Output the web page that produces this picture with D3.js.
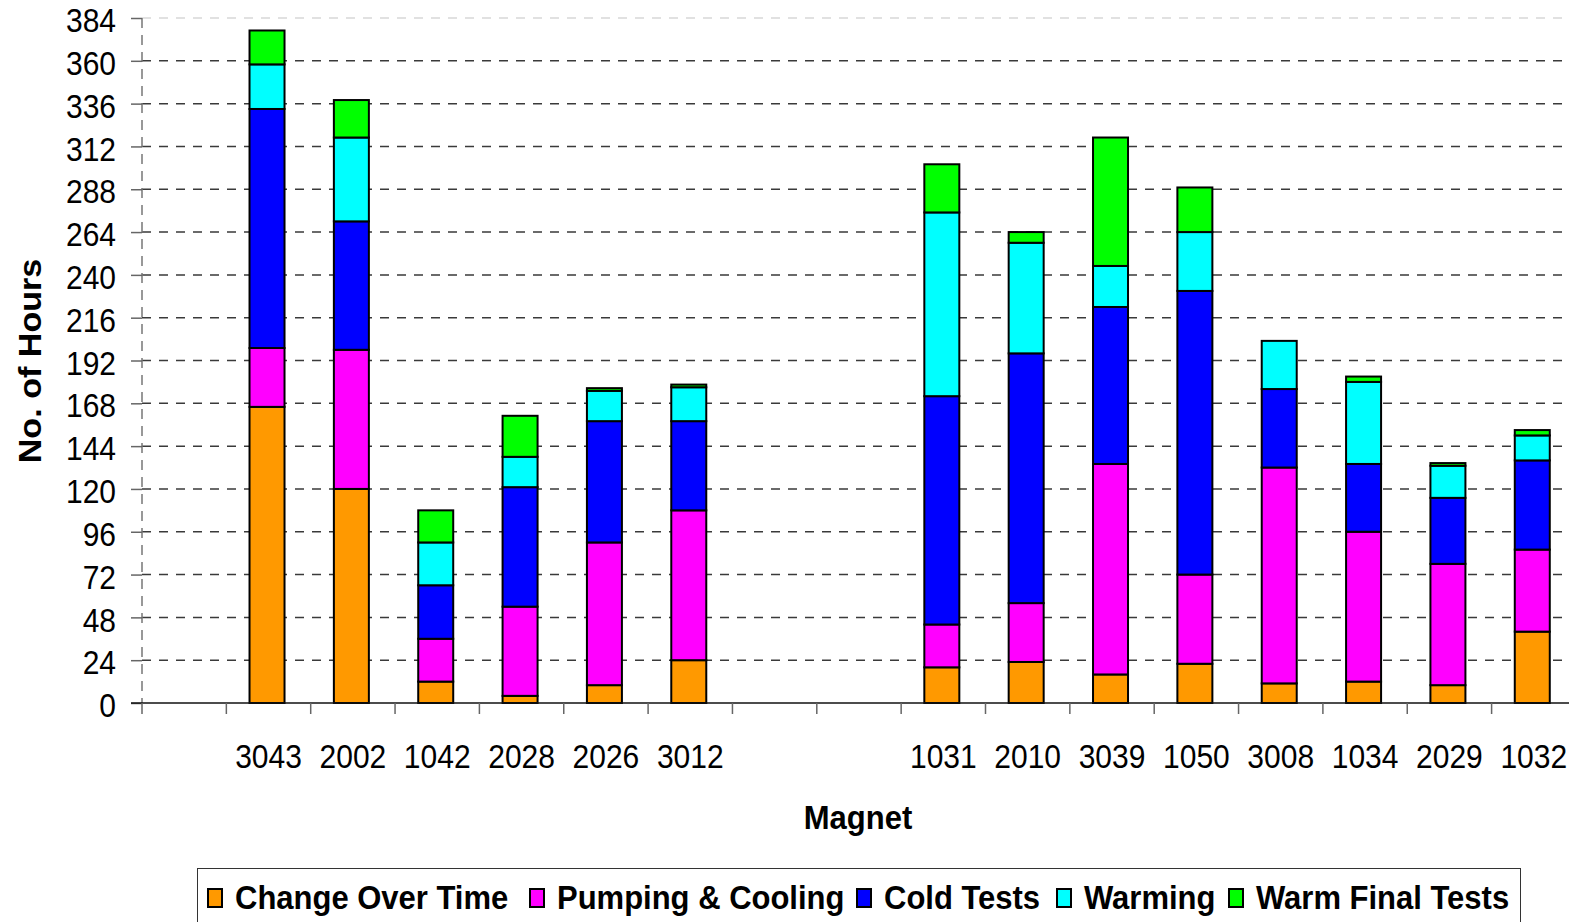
<!DOCTYPE html>
<html>
<head>
<meta charset="utf-8">
<script src="https://cdn.jsdelivr.net/npm/d3@7"></script>
<style>
  html, body { margin: 0; padding: 0; background: #fff; overflow: hidden; }
  svg { display: block; font-family: "Liberation Sans", Arial, sans-serif; }
</style>
</head>
<body>
<svg id="chart" width="1569" height="922"></svg>
<script>
// Magnet slots along the x axis ("" marks an empty slot)
const slots = ["", "3043", "2002", "1042", "2028", "2026", "3012", "", "",
               "1031", "2010", "3039", "1050", "3008", "1034", "2029", "1032"];
const magnets = ["3043", "2002", "1042", "2028", "2026", "3012",
                 "1031", "2010", "3039", "1050", "3008", "1034", "2029", "1032"];

// Hours spent in each phase, per magnet
const changeOverTime = [166, 120, 12, 4, 10, 24, 20, 23, 16, 22, 11, 12, 10, 40];
const pumpingCooling = [33, 78, 24, 50, 80, 84, 24, 33, 118, 50, 121, 84, 68, 46];
const coldTests      = [134, 72, 30, 67, 68, 50, 128, 140, 88, 159, 44, 38, 37, 50];
const warming        = [25, 47, 24, 17, 17, 19, 103, 62, 23, 33, 27, 46, 18, 14];
const warmFinalTests = [19, 21, 18, 23, 1.5, 1.5, 27, 6, 72, 25, 0, 3, 1.5, 3];

const seriesNames  = ["Change Over Time", "Pumping & Cooling", "Cold Tests", "Warming", "Warm Final Tests"];
const seriesColors = ["#FF9900", "#FF00FF", "#0000FF", "#00FFFF", "#00FF00"];
const yTicks = d3.range(0, 385, 24);

// rows for the stack layout
const rows = magnets.map((m, i) => ({
  magnet: m,
  "Change Over Time": changeOverTime[i],
  "Pumping & Cooling": pumpingCooling[i],
  "Cold Tests": coldTests[i],
  "Warming": warming[i],
  "Warm Final Tests": warmFinalTests[i]
}));

const svg = d3.select("#chart");
const plotLeft = 142, plotTop = 18, plotBottom = 703;
const slotW = 84.35;
const plotRight = plotLeft + slotW * slots.length;
const stretch = 1.08;

const x = d3.scaleBand().domain(d3.range(slots.length)).range([plotLeft, plotRight]).paddingInner(0).paddingOuter(0);
const y = d3.scaleLinear().domain([0, 384]).range([plotBottom, plotTop]);
const slotOf = m => slots.indexOf(m);

// horizontal gridlines
svg.append("g").selectAll("line").data(yTicks.filter(t => t > 0)).join("line")
  .attr("x1", plotLeft).attr("x2", plotRight)
  .attr("y1", d => y(d)).attr("y2", d => y(d))
  .attr("stroke", d => d === 384 ? "#d8d8d8" : "#3a3a3a")
  .attr("stroke-width", 1.5)
  .attr("stroke-dasharray", "9,8");

// dashed vertical line along the value axis
svg.append("line")
  .attr("x1", plotLeft).attr("x2", plotLeft).attr("y1", plotTop).attr("y2", plotBottom)
  .attr("stroke", "#777").attr("stroke-width", 1.5).attr("stroke-dasharray", "10,7");

// y axis ticks and labels
const yAxis = svg.append("g").attr("transform", `translate(${plotLeft},0)`)
  .call(d3.axisLeft(y).tickValues(yTicks).tickSize(11).tickPadding(15));
yAxis.select(".domain").remove();
yAxis.selectAll(".tick line").attr("stroke", "#666").attr("stroke-width", 1.5);
yAxis.selectAll(".tick text")
  .attr("font-size", 30).attr("fill", "#000")
  .attr("font-family", "'Liberation Sans', Arial, sans-serif")
  .attr("dy", "0.36em")
  .attr("transform", `translate(0,2) scale(1,${stretch})`);

// stacked bars
const stacked = d3.stack().keys(seriesNames)(rows);
const barW = 35;
svg.append("g").selectAll("g").data(stacked).join("g")
  .attr("fill", (d, i) => seriesColors[i])
  .selectAll("rect").data(d => d).join("rect")
  .attr("x", d => x(slotOf(d.data.magnet)) + (x.bandwidth() - barW) / 2 - 1.5)
  .attr("width", barW)
  .attr("y", d => y(d[1]))
  .attr("height", d => y(d[0]) - y(d[1]))
  .attr("stroke", "#000")
  .attr("stroke-width", 2);

// x axis: boundary ticks between slots, and magnet labels centred in slots
const xAxisLine = svg.append("g");
xAxisLine.append("line")
  .attr("x1", plotLeft - 11).attr("x2", plotRight).attr("y1", plotBottom).attr("y2", plotBottom)
  .attr("stroke", "#111").attr("stroke-width", 1.5);
xAxisLine.selectAll("line.tk").data(d3.range(slots.length + 1)).join("line")
  .attr("class", "tk")
  .attr("x1", i => plotLeft + i * x.step()).attr("x2", i => plotLeft + i * x.step())
  .attr("y1", plotBottom).attr("y2", plotBottom + 11)
  .attr("stroke", "#666").attr("stroke-width", 1.5);

const xAxis = svg.append("g").attr("transform", `translate(0,${plotBottom})`)
  .call(d3.axisBottom(x).tickSize(0).tickPadding(0).tickFormat(i => slots[i]));
xAxis.select(".domain").remove();
xAxis.selectAll(".tick text")
  .attr("font-size", 30).attr("fill", "#000")
  .attr("font-family", "'Liberation Sans', Arial, sans-serif")
  .attr("dy", 0).attr("y", 0)
  .attr("transform", `translate(0,65) scale(1,${stretch})`);

// axis titles
svg.append("text")
  .attr("transform", `translate(858,829) scale(1,${stretch})`)
  .attr("text-anchor", "middle").attr("font-size", 31).attr("font-weight", "bold")
  .text("Magnet");
svg.append("text")
  .attr("transform", `translate(41,361) rotate(-90) scale(1.1,1)`)
  .attr("text-anchor", "middle").attr("font-size", 31).attr("font-weight", "bold")
  .text("No. of Hours");

// legend
const legend = svg.append("g");
legend.append("rect")
  .attr("x", 197.5).attr("y", 868.5).attr("width", 1323).attr("height", 80)
  .attr("fill", "#fff").attr("stroke", "#333").attr("stroke-width", 1);
const legendX = [208, 530, 857, 1057, 1229];
const items = legend.selectAll("g.item").data(seriesNames).join("g")
  .attr("class", "item")
  .attr("transform", (d, i) => `translate(${legendX[i]},0)`);
items.append("rect")
  .attr("x", 0).attr("y", 889).attr("width", 14).attr("height", 18)
  .attr("fill", (d, i) => seriesColors[i])
  .attr("stroke", "#000").attr("stroke-width", 2);
items.append("text")
  .attr("transform", `translate(27,909) scale(1,${stretch})`)
  .attr("font-size", 31).attr("font-weight", "bold")
  .text(d => d);
</script>
</body>
</html>
